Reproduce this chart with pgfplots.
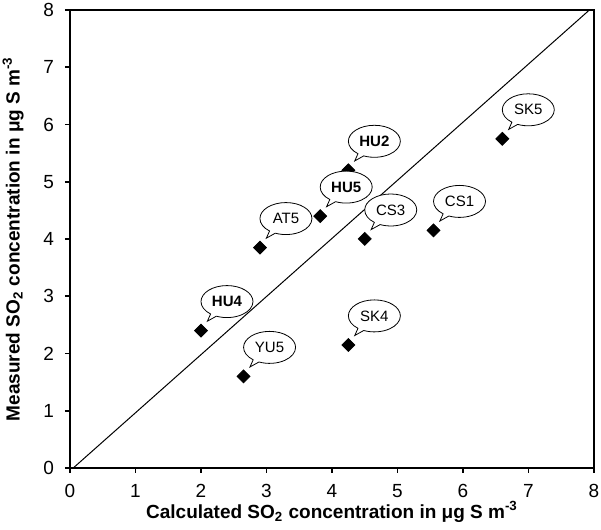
\documentclass[border=0pt]{standalone}
\usepackage{fontspec}
\setmainfont{Liberation Sans}
\usepackage{pgfplots}
\pgfplotsset{compat=1.18}
\usetikzlibrary{shapes.callouts}

% filled diamond with equal diagonals
\pgfdeclareplotmark{sqdiamond}{%
  \pgfpathmoveto{\pgfqpoint{0pt}{1.4\pgfplotmarksize}}%
  \pgfpathlineto{\pgfqpoint{1.4\pgfplotmarksize}{0pt}}%
  \pgfpathlineto{\pgfqpoint{0pt}{-1.4\pgfplotmarksize}}%
  \pgfpathlineto{\pgfqpoint{-1.4\pgfplotmarksize}{0pt}}%
  \pgfpathclose
  \pgfusepathqfillstroke}

\begin{document}
\begin{tikzpicture}
\pgfplotsset{
  bubble/.style={
    only marks,
    mark=sqdiamond,
    mark size=2.3pt,
    mark options={fill=black, draw=black},
    nodes near coords,
    point meta=explicit symbolic,
    every node near coord/.append style={
      ellipse callout, draw=black, thin, fill=white,
      callout relative pointer={(-3pt,-3pt)},
      minimum width=26pt, minimum height=16pt, inner sep=0pt,
      anchor=center,
      xshift=13pt, yshift=14.5pt,
      font=\fontsize{7.5}{9}\selectfont, text=black},
  },
}
\begin{axis}[
    scale only axis,
    width=262pt, height=229pt,
    xmin=0, xmax=8, ymin=0, ymax=8,
    xtick={0,1,...,8}, ytick={0,1,...,8},
    tick pos=left, tick align=outside,
    major tick length=2.5pt,
    axis line style={line width=0.9pt},
    every tick/.style={black, line width=0.8pt},
    /pgf/number format/assume math mode=true,
    ticklabel style={font=\fontsize{9.5}{11}\selectfont},
    xticklabel style={yshift=-2pt},
    yticklabel style={xshift=-2pt},
    xlabel={\textbf{Calculated SO\textsubscript{2} concentration in μg S m\textsuperscript{-3}}},
    ylabel={\textbf{Measured SO\textsubscript{2} concentration in μg S m\textsuperscript{-3}}},
    label style={font=\fontsize{9.5}{11}\selectfont},
    xlabel style={yshift=5pt},
    ylabel style={yshift=3pt},
    clip=false,
]
% 1:1 line
\addplot[black, line width=0.5pt] coordinates {(0.05,0) (7.93,8)};

% regular labels
\addplot[bubble] table[meta=label] {
x    y    label
2.90 3.85 AT5
4.50 4.00 CS3
5.55 4.15 CS1
6.60 5.75 SK5
4.25 2.15 SK4
2.65 1.60 YU5
};

% bold labels
\addplot[bubble, every node near coord/.append style={font=\fontsize{7.5}{9}\selectfont\bfseries}] table[meta=label] {
x    y    label
4.25 5.20 HU2
3.82 4.40 HU5
2.00 2.40 HU4
};
\end{axis}
\pgfresetboundingbox
\path ([xshift=-35pt,yshift=-31pt]current axis.south west)
  rectangle ([xshift=3.5pt,yshift=5pt]current axis.north east);
\end{tikzpicture}
\end{document}
